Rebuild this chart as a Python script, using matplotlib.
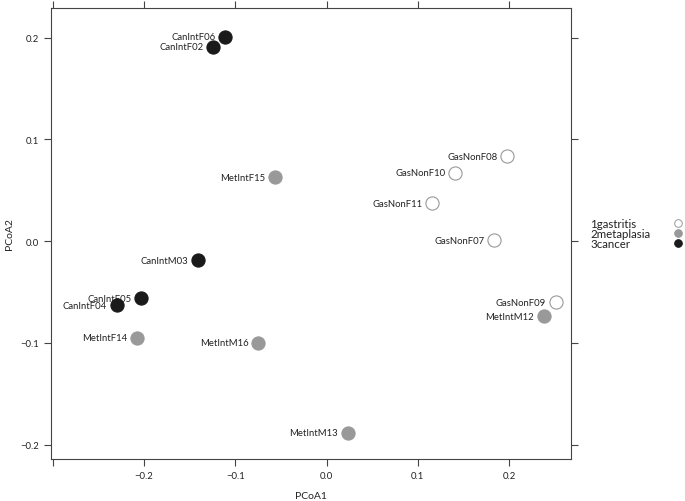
import matplotlib
matplotlib.use('Agg')
import matplotlib.pyplot as plt
from matplotlib.lines import Line2D

plt.rcParams['font.family'] = ['Lato', 'DejaVu Sans']

# datos
muestras = ['CanIntF06', 'CanIntF02', 'GasNonF08', 'GasNonF10', 'MetIntF15',
            'GasNonF11', 'GasNonF07', 'CanIntM03', 'CanIntF05', 'CanIntF04',
            'GasNonF09', 'MetIntM12', 'MetIntF14', 'MetIntM16', 'MetIntM13']
pcoa1 = [-0.111, -0.124, 0.198, 0.141, -0.056, 0.116, 0.184, -0.141, -0.203,
         -0.230, 0.251, 0.238, -0.208, -0.075, 0.023]
pcoa2 = [0.201, 0.191, 0.0835, 0.067, 0.063, 0.037, 0.001, -0.0187, -0.056,
         -0.063, -0.060, -0.074, -0.095, -0.100, -0.188]
grupo = ['3cancer', '3cancer', '1gastritis', '1gastritis', '2metaplasia',
         '1gastritis', '1gastritis', '3cancer', '3cancer', '3cancer',
         '1gastritis', '2metaplasia', '2metaplasia', '2metaplasia', '2metaplasia']
grupos = ['1gastritis', '2metaplasia', '3cancer']

relleno = {'1gastritis': 'white', '2metaplasia': '#999999', '3cancer': '#1a1a1a'}
borde = {'1gastritis': '#999999', '2metaplasia': '#999999', '3cancer': '#1a1a1a'}

fig = plt.figure(figsize=(6.85, 5.02), dpi=100)
ax = fig.add_axes([0.0745, 0.0837, 0.7591, 0.8983])

for x, y, g, m in zip(pcoa1, pcoa2, grupo, muestras):
    ax.scatter(x, y, s=90, c=relleno[g], edgecolors=borde[g], linewidths=0.8, zorder=3)
    ax.annotate(m, (x, y), xytext=(-7, 0), textcoords='offset points',
                ha='right', va='center', fontsize=6.8, color='#222222')

ax.set_xlim(-0.302, 0.268)
ax.set_ylim(-0.214, 0.229)
ax.set_xticks([-0.3, -0.2, -0.1, 0.0, 0.1, 0.2])
ax.set_xticklabels(['', '\u22120.2', '\u22120.1', '0.0', '0.1', '0.2'])
ax.set_yticks([-0.2, -0.1, 0.0, 0.1, 0.2])
ax.set_yticklabels(['\u22120.2', '\u22120.1', '0.0', '0.1', '0.2'])
ax.tick_params(direction='out', length=5, width=0.8, color='#444444',
               labelsize=6.8, top=True, right=True, labelcolor='#222222')
for s in ax.spines.values():
    s.set_color('#444444')
    s.set_linewidth(0.8)

ax.set_xlabel('PCoA1', fontsize=7.5, color='#222222', labelpad=8)
ax.set_ylabel('PCoA2', fontsize=7.5, color='#222222', labelpad=5)

# leyenda: texto a la izquierda, punto a la derecha
for i, g in enumerate(grupos):
    yf = 1 - (224 + 10 * i) / 502
    fig.text(590 / 685, yf, g, ha='left', va='center', fontsize=8.3, color='#222222')
    fig.add_artist(Line2D([678 / 685], [yf], transform=fig.transFigure,
                          marker='o', linestyle='', markersize=5.5,
                          markerfacecolor=relleno[g], markeredgecolor=borde[g],
                          markeredgewidth=0.7))

plt.savefig('out.png', dpi=100)
